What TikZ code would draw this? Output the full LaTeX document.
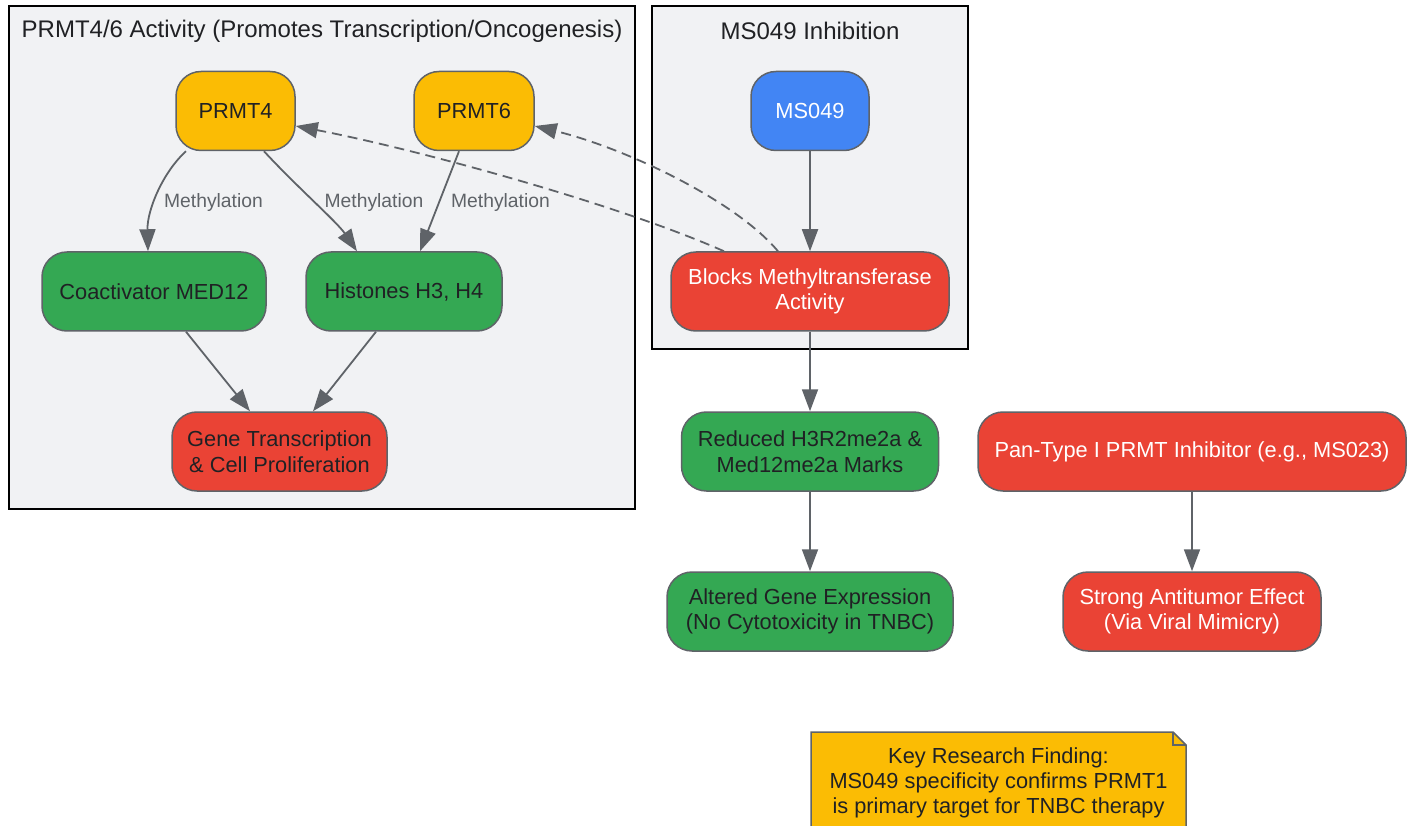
\documentclass[tikz,border=0pt]{standalone}
\usepackage{fontspec}
\setmainfont{Liberation Sans}
\usetikzlibrary{arrows.meta,calc}

\definecolor{edgegray}{HTML}{5F6368}
\definecolor{textdark}{HTML}{202124}
\definecolor{clusterbg}{HTML}{F1F2F4}
\definecolor{gyellow}{HTML}{FBBC04}
\definecolor{gblue}{HTML}{4285F4}
\definecolor{ggreen}{HTML}{34A853}
\definecolor{gred}{HTML}{EA4335}

\tikzset{
  box/.style={draw=edgegray, line width=1.5pt, rounded corners=25pt, inner sep=0pt,
    align=center, font=\fontsize{21.8}{25.5}\selectfont, text=textdark, minimum height=79pt},
  yellowbox/.style={box, fill=gyellow},
  bluebox/.style={box, fill=gblue, text=white},
  greenbox/.style={box, fill=ggreen},
  redbox/.style={box, fill=gred, text=white},
  flow/.style={draw=edgegray, line width=1.8pt, -{Triangle[length=22pt,width=16pt]}},
  inhibit/.style={flow, dash pattern=on 10pt off 6pt},
  lbl/.style={font=\fontsize{19.3}{23}\selectfont, text=edgegray},
  cluster/.style={draw=black, line width=1.8pt, fill=clusterbg},
  clustertitle/.style={font=\fontsize{24}{28}\selectfont, text=textdark},
}

\begin{document}
\begin{tikzpicture}[x=1pt,y=-1pt]
\useasboundingbox (0,0) rectangle (1414,826);
\fill[white] (0,0) rectangle (1414,826);

\draw[cluster] (9,6) rectangle (635,509);
\draw[cluster] (652,6) rectangle (968,349);
\node[clustertitle] (title1) at (322,31) {PRMT4/6 Activity (Promotes Transcription/Oncogenesis)};
\node[clustertitle] (title2) at (810,31) {MS049 Inhibition};

\node[yellowbox, minimum width=119pt] (prmt4) at (235.5,111) {PRMT4};
\node[yellowbox, minimum width=120pt] (prmt6) at (474,111) {PRMT6};
\node[bluebox, minimum width=118pt] (ms049) at (810,111) {MS049};
\node[greenbox, minimum width=224pt] (med12) at (154,291.5) {Coactivator MED12};
\node[greenbox, minimum width=196pt] (histones) at (404,291.5) {Histones H3, H4};
\node[redbox, minimum width=278pt] (block) at (810,291.5) {Blocks Methyltransferase\\Activity};
\node[redbox, text=textdark, minimum width=215pt] (gene) at (279.5,451.5) {Gene Transcription\\\& Cell Proliferation};
\node[greenbox, minimum width=257pt] (reduced) at (810,451.5) {Reduced H3R2me2a \&\\Med12me2a Marks};
\node[redbox, minimum width=428pt] (pan) at (1192,451.5) {Pan-Type I PRMT Inhibitor (e.g., MS023)};
\node[greenbox, minimum width=286pt] (altered) at (810,611.5) {Altered Gene Expression\\(No Cytotoxicity in TNBC)};
\node[redbox, minimum width=258pt] (strong) at (1192,611.5) {Strong Antitumor Effect\\(Via Viral Mimicry)};

\draw[flow] ($(prmt4.south)+(-49.5,0)$) .. controls (163,172) and (147,210) .. ($(med12.north)+(-6,0)$);
\draw[flow] ($(prmt4.south)+(28.5,0)$) .. controls (296,186) and (337,222) .. ($(histones.north)+(-47,0)$);
\draw[flow] ($(prmt6.south)+(-15,0)$) -- ($(histones.north)+(16,0)$);
\node[lbl] (meth1) at (213.5,202.5) {Methylation};
\node[lbl] (meth2) at (374,202.5) {Methylation};
\node[lbl] (meth3) at (500.5,202.5) {Methylation};
\draw[flow] ($(med12.south)+(32,0)$) -- ($(gene.north)+(-29.5,0)$);
\draw[flow] ($(histones.south)+(-28,0)$) -- ($(gene.north)+(33.5,0)$);

\draw[flow] (ms049) -- (block);
\draw[inhibit] ($(block.north)+(-86,0)$) .. controls (620,205) and (420,150) .. ($(prmt4.east)+(0,15)$);
\draw[inhibit] ($(block.north)+(-32,0)$) .. controls (735,200) and (625,148) .. ($(prmt6.east)+(0,15)$);
\draw[flow] (block) -- (reduced);
\draw[flow] (reduced) -- (altered);
\draw[flow] (pan) -- (strong);

\draw[draw=edgegray, line width=1.5pt, fill=gyellow] (811,732) -- (1173,732) -- (1186,745) -- (1186,850) -- (811,850) -- cycle;
\draw[draw=edgegray, line width=1.5pt] (1173,732) -- (1173,745) -- (1186,745);
\node[font=\fontsize{21.8}{25}\selectfont, text=textdark, align=center] (finding) at (998.5,782.5) {Key Research Finding:\\MS049 specificity confirms PRMT1\\is primary target for TNBC therapy};
\end{tikzpicture}
\end{document}
